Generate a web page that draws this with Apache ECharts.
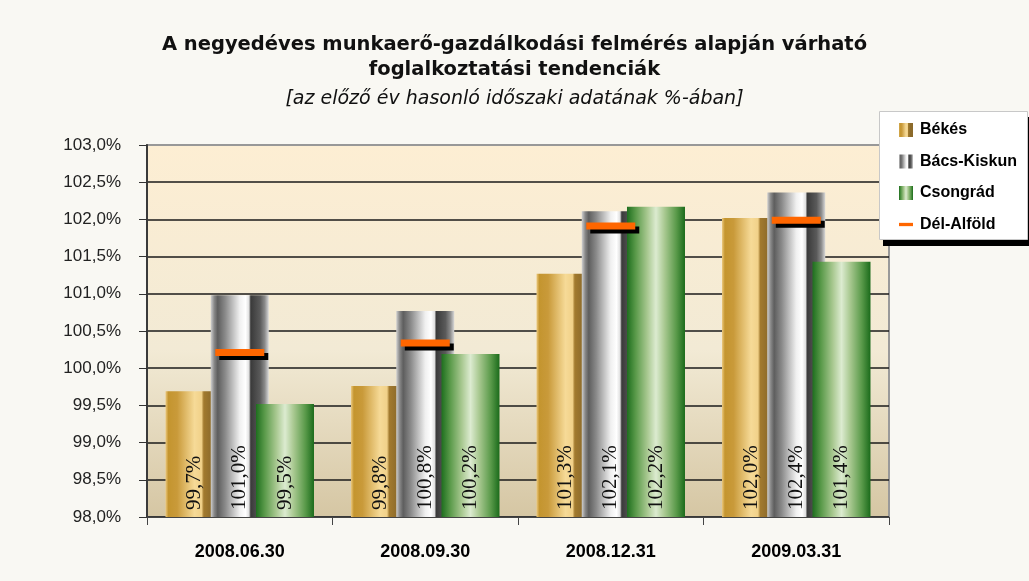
<!DOCTYPE html>
<html>
<head>
<meta charset="utf-8">
<script src="https://cdn.jsdelivr.net/npm/echarts@6/dist/echarts.min.js"></script>
<style>
html,body{margin:0;padding:0;background:#f9f8f3;}
#chart{width:1029px;height:581px;}
</style>
</head>
<body>
<div id="chart"></div>
<script>
const categories = ['2008.06.30', '2008.09.30', '2008.12.31', '2009.03.31'];
const seriesNames = ['Békés', 'Bács-Kiskun', 'Csongrád', 'Dél-Alföld'];
const bekes = [99.69, 99.76, 101.27, 102.02];
const bacsKiskun = [100.98, 100.77, 102.11, 102.36];
const csongrad = [99.52, 100.19, 102.17, 101.43];
const delAlfold = [100.21, 100.34, 101.91, 101.99];
const yMin = 98, yMax = 103, yStep = 0.5;
const titleLine1 = 'A negyedéves munkaerő-gazdálkodási felmérés alapján várható';
const titleLine2 = 'foglalkoztatási tendenciák';
const subtitle = '[az előző év hasonló időszaki adatának %-ában]';

const fmt = v => v.toFixed(1).replace('.', ',') + '%';
const grad = stops => ({type: 'linear', x: 0, y: 0, x2: 1, y2: 0,
  colorStops: stops.map(s => ({offset: s[0], color: s[1]}))});

const goldGrad = grad([[0,'#ecc97e'],[0.05,'#c4952f'],[0.2,'#c99a3a'],[0.5,'#f6da97'],[0.62,'#f1d189'],[0.66,'#a27a2e'],[0.8,'#8d6b2b'],[1,'#8a6a2a']]);
const grayGrad = grad([[0,'#d0d0d0'],[0.06,'#888'],[0.12,'#5e5e5e'],[0.25,'#8a8a8a'],[0.5,'#f0f0f0'],[0.6,'#ffffff'],[0.66,'#e0e0e0'],[0.69,'#3a3a3a'],[0.85,'#5a5a5a'],[0.93,'#8a8a8a'],[1,'#d8d8d8']]);
const greenGrad = grad([[0,'#1e6e1e'],[0.15,'#5a9a4a'],[0.35,'#a8c890'],[0.5,'#dcebd0'],[0.65,'#a8c890'],[0.85,'#5a9a4a'],[1,'#1b6b1b']]);

const sans = '"Liberation Sans", Arial, sans-serif';

const barLabel = {
  show: true, position: 'insideBottom', distance: 7, rotate: 90,
  align: 'left', verticalAlign: 'middle',
  fontFamily: '"Liberation Serif", "DejaVu Serif", serif', fontSize: 21, color: '#111',
  formatter: p => fmt(p.value)
};

function barSeries(name, data, color) {
  return {
    name, type: 'bar', data, barWidth: 58, barGap: '-22%',
    itemStyle: {color}, label: barLabel, emphasis: {disabled: true}
  };
}

const splitColors = [];
for (let i = 0; i < 10; i++) splitColors.push('#1a1a1a');
splitColors.push('#999999');

const chart = echarts.init(document.getElementById('chart'));
chart.setOption({
  backgroundColor: '#f9f8f3',
  animation: false,
  graphic: [
    {type: 'rect', z: 100, silent: true, shape: {x: 883, y: 117, width: 150, height: 129}, style: {fill: '#000'}},
    {type: 'rect', z: 101, silent: true, shape: {x: 879.5, y: 111.5, width: 148, height: 128}, style: {fill: '#ffffff', stroke: '#c8c8c8', lineWidth: 1}}
  ],
  title: [{
    text: titleLine1 + '\n' + titleLine2,
    left: 'center', top: 27, padding: [5, 23, 5, 5],
    textStyle: {fontFamily: '"DejaVu Sans", sans-serif', fontWeight: 'bold', fontSize: 19.5, lineHeight: 25, color: '#111'}
  }, {
    text: subtitle,
    left: 'center', top: 83, padding: [5, 17, 5, 5],
    textStyle: {fontFamily: '"DejaVu Sans", sans-serif', fontWeight: 'normal', fontStyle: 'italic', fontSize: 19, lineHeight: 22, color: '#111'}
  }],
  legend: {
    orient: 'vertical', left: 899, top: 120, z: 110,
    padding: 0,
    itemWidth: 14, itemHeight: 14, itemGap: 11.5,
    textStyle: {fontFamily: sans, fontWeight: 'bold', fontSize: 16, lineHeight: 20, color: '#000', padding: [0, 0, 0, 2]},
    data: [
      {name: seriesNames[0], icon: 'rect'},
      {name: seriesNames[1], icon: 'rect'},
      {name: seriesNames[2], icon: 'rect'},
      {name: seriesNames[3], icon: 'path://M0,0 L17,0 L17,4 L0,4 Z',
       itemStyle: {color: '#ff6600', shadowBlur: 0, shadowOffsetX: 0, shadowOffsetY: 0, shadowColor: 'rgba(0,0,0,0)'}}
    ]
  },
  grid: {
    left: 147, right: 140, top: 145, bottom: 64,
    show: true,
    backgroundColor: {type: 'linear', x: 0, y: 0, x2: 0, y2: 1,
      colorStops: [{offset: 0, color: '#fdeed3'}, {offset: 0.55, color: '#f2ead5'}, {offset: 1, color: '#d5c6a3'}]},
    borderColor: '#999', borderWidth: 2
  },
  xAxis: {
    type: 'category', data: categories,
    axisLine: {show: true, lineStyle: {color: '#444', width: 1}},
    axisTick: {show: true, length: 8, lineStyle: {color: '#444'}},
    axisLabel: {fontFamily: sans, fontWeight: 'bold', fontSize: 18, color: '#000', margin: 26}
  },
  yAxis: {
    type: 'value', min: yMin, max: yMax, interval: yStep,
    axisLine: {show: true, lineStyle: {color: '#3a3a3a', width: 2}},
    axisTick: {show: true, length: 8, lineStyle: {color: '#333'}},
    axisLabel: {fontFamily: sans, fontSize: 17, color: '#222', margin: 26,
      formatter: v => fmt(v)},
    splitLine: {show: true, lineStyle: {color: splitColors, width: 1.5}}
  },
  series: [
    barSeries(seriesNames[0], bekes, goldGrad),
    barSeries(seriesNames[1], bacsKiskun, grayGrad),
    barSeries(seriesNames[2], csongrad, greenGrad),
    {
      name: seriesNames[3], type: 'scatter', data: delAlfold,
      symbol: 'rect', symbolSize: [49, 7], z: 5,
      itemStyle: {color: '#ff6600', shadowColor: '#000', shadowBlur: 0, shadowOffsetX: 4, shadowOffsetY: 4, opacity: 1},
      emphasis: {disabled: true}
    }
  ]
});
</script>
</body>
</html>
